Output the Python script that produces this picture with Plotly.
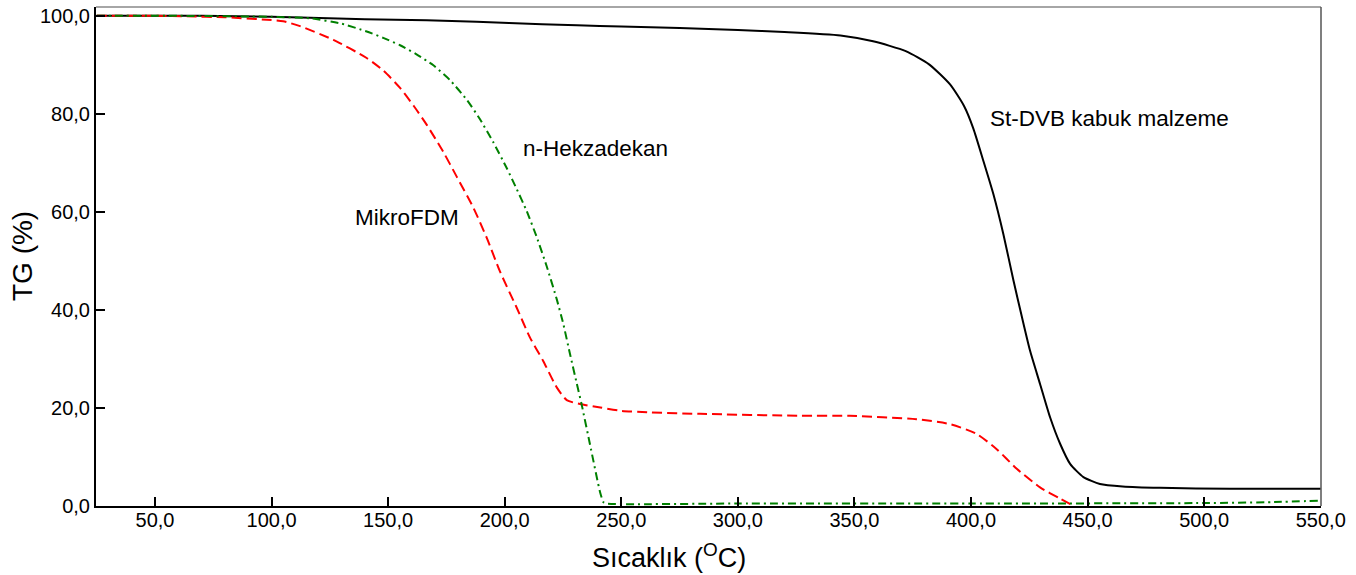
import plotly.graph_objects as go

# St-DVB kabuk malzeme (black, solid)
t_stdvb = [25, 50, 70, 100, 116.5, 140, 166.5, 188, 216, 231, 250, 275, 300, 320, 344,
           358, 372, 382, 391, 397, 401, 405.3, 409.6, 413.9, 418.2, 421.7, 425.3, 429.6,
           433.9, 438.2, 442.5, 448.2, 455.3, 465, 481, 511, 550]
v_stdvb = [100, 100, 100, 99.8, 99.6, 99.3, 99.1, 98.8, 98.3, 98.1, 97.8, 97.5, 97.1, 96.7, 96.0,
           94.8, 92.8, 90.1, 86.0, 81.6, 77.0, 70.4, 63.6, 55.4, 46.0, 38.8, 31.7, 24.9,
           18.1, 12.7, 8.6, 5.9, 4.5, 4.0, 3.7, 3.5, 3.5]

# MikroFDM (red, dashed)
t_mikro = [25, 50, 63.7, 80, 98, 105, 112.2, 126.5, 140.8, 148, 155.1, 161, 166.5, 173.7,
           179.4, 186.5, 192.3, 198, 205.1, 210.8, 216.5, 222.3, 226.6, 232.3, 241, 250, 262.3,
           283.8, 326.7, 348, 376.6, 391, 402.4, 411, 419.6, 429.6, 438.2, 444]
v_mikro = [100, 100, 99.9, 99.7, 99.2, 98.9, 97.9, 95.1, 91.4, 88.8, 85.3, 81.6, 77.8, 72.2,
           67.2, 60.9, 54.7, 47.8, 40.5, 34.4, 29.6, 24.2, 21.6, 20.8, 20.1, 19.4, 19.1,
           18.8, 18.4, 18.4, 17.7, 16.7, 14.7, 11.6, 7.6, 3.8, 1.5, 0]

# n-Hekzadekan (green, dash-dot)
t_hekza = [25, 60, 100, 116.5, 130, 140.8, 147.9, 155.1, 162, 169.4, 176.5, 183.7, 189.4, 195,
           200.9, 205, 209.4, 213.7, 218, 222.3, 225.1, 228, 230.9, 233, 236.6, 240.9, 242.3,
           243.5, 300, 400, 500, 530, 550]
v_hekza = [100, 100, 99.8, 99.5, 98.4, 96.8, 95.5, 94.0, 92.2, 89.9, 86.9, 82.9, 78.9, 74.3,
           68.9, 64.8, 60.2, 54.9, 48.9, 42.2, 37.2, 31.0, 25.0, 20.7, 12.5, 2.8, 0.8,
           0.5, 0.5, 0.5, 0.6, 0.8, 1.1]

x_ticks = [50, 100, 150, 200, 250, 300, 350, 400, 450, 500, 550]
y_ticks = [0, 20, 40, 60, 80, 100]

labels = ["St-DVB kabuk malzeme", "n-Hekzadekan", "MikroFDM"]
label_x = [407.2, 206.9, 135.1]
label_y = [79.1, 73.0, 58.9]

x_title = "Sıcaklık (<sup>O</sup>C)"
y_title = "TG (%)"

FONT = "Liberation Sans, Arial, sans-serif"

fig = go.Figure()
fig.add_trace(go.Scatter(x=t_stdvb, y=v_stdvb, mode="lines",
                         line=dict(color="black", width=2, shape="spline", smoothing=0.6),
                         name=labels[0]))
fig.add_trace(go.Scatter(x=t_mikro, y=v_mikro, mode="lines",
                         line=dict(color="#FF0000", width=2, dash="10px,5px", shape="spline", smoothing=0.6),
                         name=labels[2]))
fig.add_trace(go.Scatter(x=t_hekza, y=v_hekza, mode="lines",
                         line=dict(color="#008000", width=2, dash="8px,4px,2px,4px", shape="spline", smoothing=0.5),
                         name=labels[1]))

for txt, lx, ly in zip(labels, label_x, label_y):
    fig.add_annotation(x=lx, y=ly, xref="x", yref="y", text=txt, showarrow=False,
                       xanchor="left", yanchor="middle",
                       font=dict(family=FONT, size=22.5, color="black"))

# axis titles placed as annotations to match reference positions
fig.add_annotation(x=270.5, y=-0.1, xref="x", yref="paper", text=x_title, showarrow=False,
                   xanchor="center", yanchor="middle",
                   font=dict(family=FONT, size=27, color="black"))
fig.add_annotation(x=-0.0604, y=0.501, xref="paper", yref="paper", text=y_title, showarrow=False,
                   xanchor="center", yanchor="middle", textangle=-90,
                   font=dict(family=FONT, size=28, color="black"))

# thin gray top and right border
fig.add_shape(type="line", xref="paper", yref="paper", x0=0, x1=1, y0=1, y1=1,
              line=dict(color="#888888", width=1.5))
fig.add_shape(type="line", xref="paper", yref="paper", x0=1, x1=1, y0=0, y1=1,
              line=dict(color="#555555", width=1.5))

fig.update_layout(
    width=1356, height=575,
    margin=dict(l=96, r=35, t=5, b=69),
    paper_bgcolor="white", plot_bgcolor="white",
    showlegend=False,
    separators=",.",
    font=dict(family=FONT, size=20, color="black"),
    xaxis=dict(range=[24.7, 550.1], tickvals=x_ticks, tickformat=".1f",
               ticks="inside", ticklen=9, tickwidth=2, tickcolor="black",
               showline=True, linecolor="black", linewidth=2,
               showgrid=False, zeroline=False, ticklabelstandoff=-5,
               tickfont=dict(family=FONT, size=20)),
    yaxis=dict(range=[0, 101.8], tickvals=y_ticks, tickformat=".1f",
               ticks="inside", ticklen=9, tickwidth=2, tickcolor="black",
               showline=True, linecolor="black", linewidth=2,
               showgrid=False, zeroline=False,
               tickfont=dict(family=FONT, size=20)),
)

fig.write_html("out.html")
